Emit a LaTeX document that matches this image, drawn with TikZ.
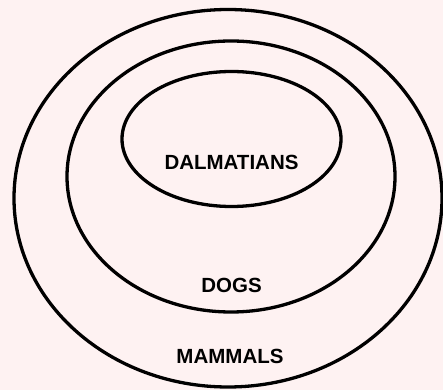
\documentclass[tikz,border=0pt]{standalone}
\usepackage{fontspec}
\setmainfont{Liberation Sans}
\usetikzlibrary{shapes.geometric}
\definecolor{bgpink}{RGB}{254,242,242}
\begin{document}
\begin{tikzpicture}[x=1pt,y=1pt,
  setring/.style={draw=black,line width=3.3pt,ellipse,inner sep=0pt,outer sep=0pt},
  setlabel/.style={font=\fontsize{20.5}{24}\selectfont\bfseries,text=black,inner sep=0pt}]
\fill[bgpink] (0,0) rectangle (443,390);
\useasboundingbox (0,0) rectangle (443,390);
\node[setring,minimum width=428pt,minimum height=377.5pt] (mammals) at (228,191.75) {};
\node[setring,minimum width=328pt,minimum height=271pt] (dogs) at (231,213.5) {};
\node[setring,minimum width=219pt,minimum height=135pt] (dalmatians) at (231.5,251) {};
\node[setlabel] (tdal) at (231.5,228) {DALMATIANS};
\node[setlabel] (tdogs) at (231.5,105) {DOGS};
\node[setlabel] (tmam) at (230,34) {MAMMALS};
\end{tikzpicture}
\end{document}
